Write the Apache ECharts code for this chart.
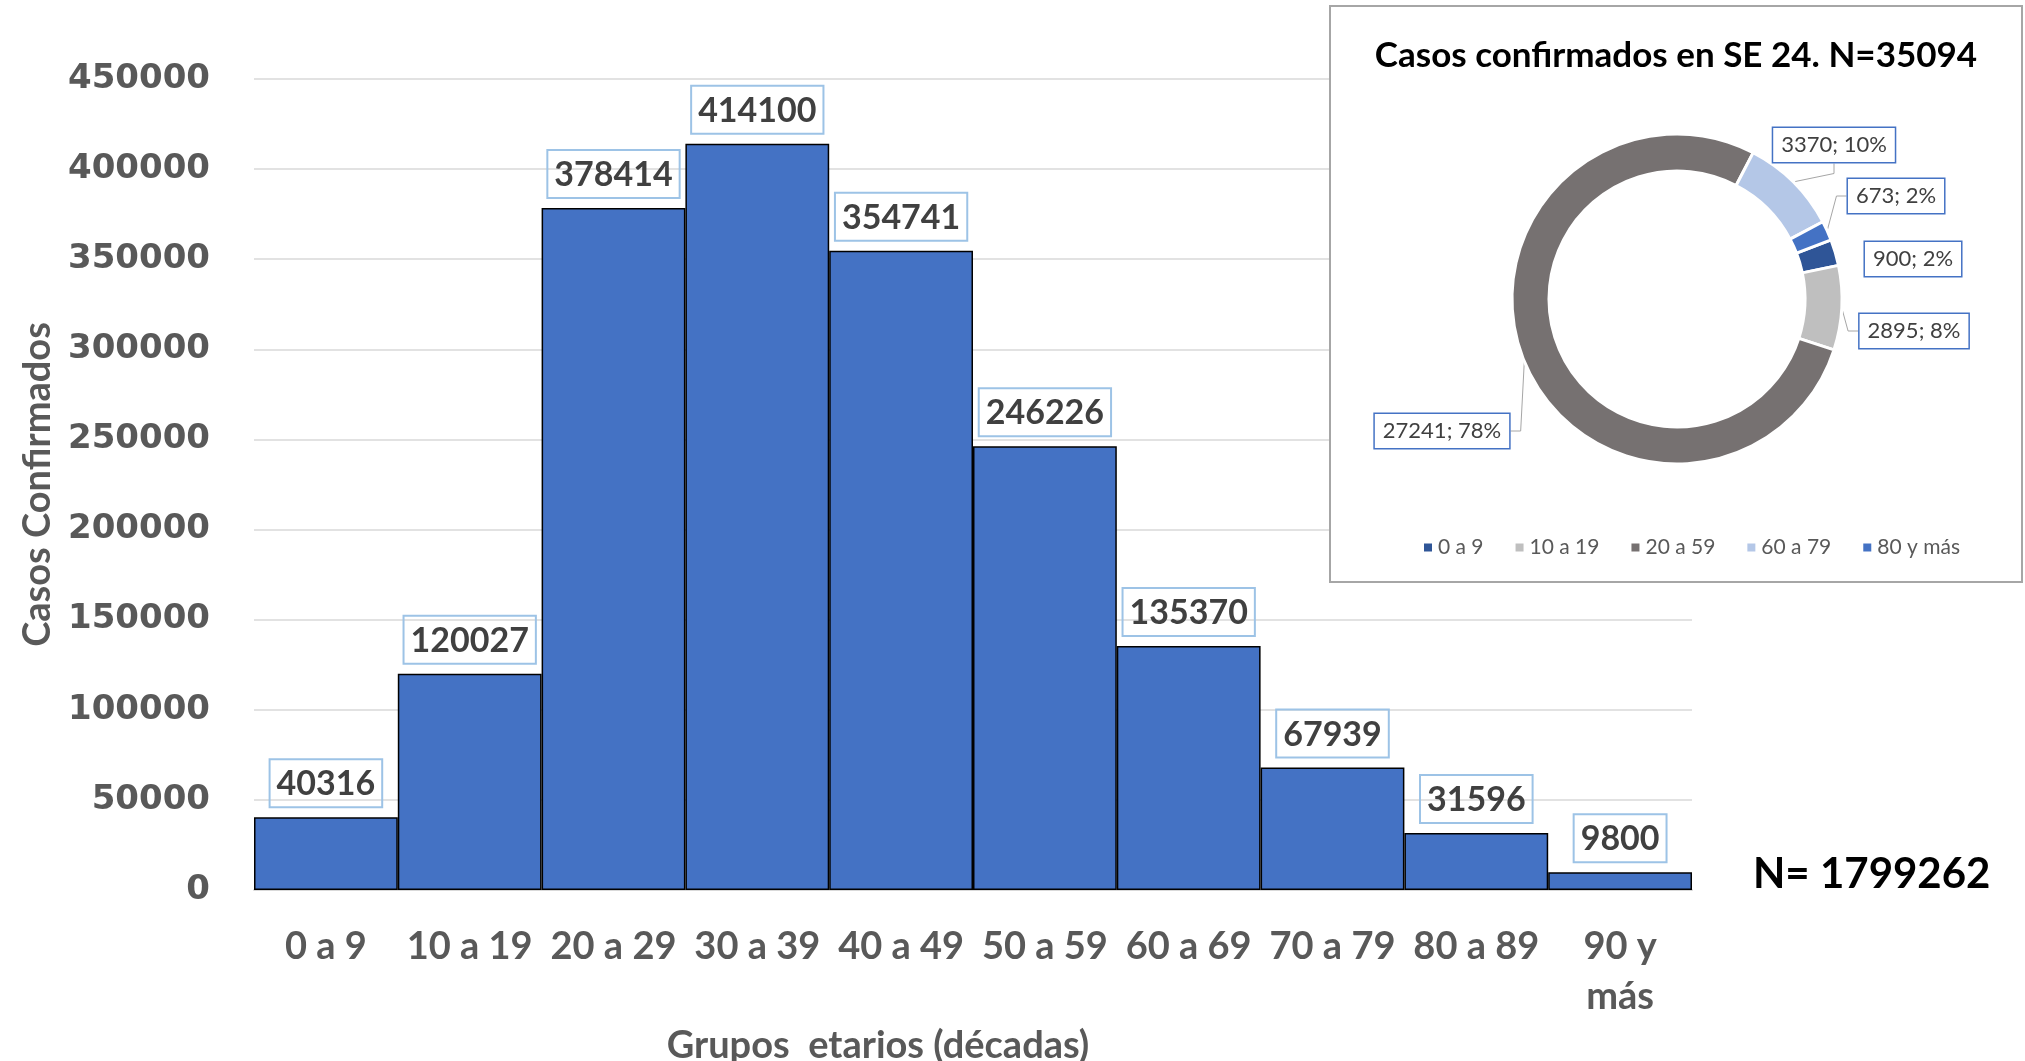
<!DOCTYPE html>
<html>
<head>
<meta charset="utf-8">
<script src="https://cdn.jsdelivr.net/npm/echarts@6/dist/echarts.min.js"></script>
<style>
  html, body { margin: 0; padding: 0; background: #fff; }
  #casos { width: 2025px; height: 1061px; }
</style>
</head>
<body>
<div id="casos"></div>
<script>
// grupos etarios (décadas) y casos confirmados acumulados
var grupos = ['0 a 9', '10 a 19', '20 a 29', '30 a 39', '40 a 49', '50 a 59', '60 a 69', '70 a 79', '80 a 89', '90 y\nmás'];
var casos = [40316, 120027, 378414, 414100, 354741, 246226, 135370, 67939, 31596, 9800];
var totalCasos = 'N= 1799262';

// casos confirmados en SE 24 (anillo)
var gruposSE = ['0 a 9', '10 a 19', '20 a 59', '60 a 79', '80 y más'];
var casosSE = [900, 2895, 27241, 3370, 673];
var tituloSE = 'Casos confirmados en SE 24. N=35094';

var coloresSE = ['#2F5597', '#BFBFBF', '#767171', '#B4C7E7', '#4472C4'];
// posiciones de las etiquetas del anillo (px)
var etiquetasSE = [[1913, 259], [1914, 331], [1442, 431], [1834, 145], [1896, 196]];

var chart = echarts.init(document.getElementById('casos'));

var option = {
  animation: false,
  textStyle: { fontFamily: 'Lato' },
  grid: { left: 254, right: 333, top: 79, bottom: 171, outerBoundsMode: 'none' },
  xAxis: {
    type: 'category',
    data: grupos,
    name: 'Grupos  etarios (décadas)',
    nameLocation: 'middle',
    nameGap: 128,
    nameTextStyle: { color: '#595959', fontSize: 38, fontWeight: 'bold', fontFamily: 'Lato', padding: [0, 190, 0, 0] },
    axisTick: { show: false },
    axisLine: { lineStyle: { color: '#D9D9D9', width: 2 } },
    axisLabel: { color: '#595959', fontSize: 38, fontWeight: 'bold', fontFamily: 'Lato', margin: 32, lineHeight: 50, interval: 0 }
  },
  yAxis: {
    type: 'value',
    min: 0,
    max: 450000,
    interval: 50000,
    name: 'Casos Confirmados',
    nameLocation: 'middle',
    nameGap: 194,
    nameTextStyle: { color: '#595959', fontSize: 38, fontWeight: 'bold', fontFamily: 'Lato' },
    axisLabel: {
      color: '#595959', fontSize: 34, fontWeight: 'bold', fontFamily: 'DejaVu Sans', margin: 44,
      formatter: function (v) { return String(v); }
    },
    splitLine: { lineStyle: { color: '#D9D9D9', width: 1.5 } }
  },
  legend: {
    data: gruposSE,
    left: 1417,
    top: 532,
    itemWidth: 10,
    itemHeight: 10,
    itemGap: 30,
    icon: 'rect',
    z: 30,
    textStyle: { color: '#595959', fontSize: 21, fontFamily: 'Lato' }
  },
  graphic: [
    {
      type: 'rect',
      z: 10,
      shape: { x: 1330, y: 6, width: 692, height: 576 },
      style: { fill: '#fff', stroke: '#A6A6A6', lineWidth: 2 }
    },
    {
      type: 'text',
      z: 30,
      x: 1676,
      y: 56,
      style: { text: tituloSE, fill: '#000', font: 'bold 35px Lato', textAlign: 'center', textVerticalAlign: 'middle' }
    },
    {
      type: 'text',
      z: 30,
      x: 1753,
      y: 874,
      style: { text: totalCasos, fill: '#000', font: 'bold 42px Lato', textAlign: 'left', textVerticalAlign: 'middle' }
    }
  ],
  series: [
    {
      type: 'bar',
      data: casos,
      barCategoryGap: '0%',
      itemStyle: { color: '#4472C4', borderColor: '#000', borderWidth: 1.5 },
      label: {
        show: true,
        position: 'top',
        distance: 10,
        formatter: function (p) { return String(p.value); },
        color: '#404040',
        fontSize: 34,
        fontWeight: 'bold',
        fontFamily: 'Lato',
        lineHeight: 40,
        padding: [5, 7, 3, 7],
        borderColor: '#9DC3E6',
        borderWidth: 2
      }
    },
    {
      type: 'pie',
      z: 20,
      center: [1677, 299],
      radius: [128, 165],
      startAngle: 21,
      percentPrecision: 0,
      data: gruposSE.map(function (g, i) {
        return {
          name: g,
          value: casosSE[i],
          itemStyle: { color: coloresSE[i] },
          labelLine: { show: i !== 0 }
        };
      }),
      itemStyle: { borderColor: '#fff', borderWidth: 3 },
      label: {
        show: true,
        position: 'outside',
        formatter: function (p) { return p.value + '; ' + p.percent + '%'; },
        color: '#404040',
        fontSize: 22,
        fontFamily: 'Lato',
        backgroundColor: '#fff',
        borderColor: '#4472C4',
        borderWidth: 1.5,
        padding: [7, 8, 5, 8]
      },
      labelLine: { show: true, length: 10, length2: 10, lineStyle: { color: '#A6A6A6', width: 1 } },
      labelLayout: function (p) {
        var pos = etiquetasSE[p.dataIndex];
        return { x: pos[0], y: pos[1], align: 'center', verticalAlign: 'middle' };
      }
    }
  ]
};

chart.setOption(option);
</script>
</body>
</html>
